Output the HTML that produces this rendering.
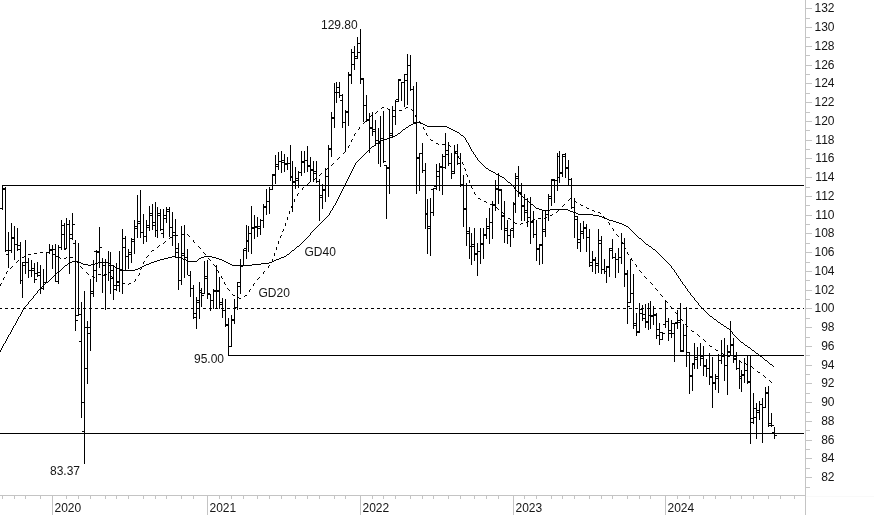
<!DOCTYPE html>
<html><head><meta charset="utf-8"><title>Chart</title>
<style>
html,body{margin:0;padding:0;background:#fff;}
body{width:874px;height:515px;overflow:hidden;}
svg{display:block;}
text{font-family:"Liberation Sans",sans-serif;font-size:12px;fill:#151515;}
</style></head><body>
<svg width="874" height="515" viewBox="0 0 874 515">
<rect width="874" height="515" fill="#fff"/>
<g shape-rendering="crispEdges" fill="#c4c4c4">
<rect x="805" y="0" width="1" height="515"/>
<rect x="0" y="495" width="805" height="1"/>
<rect x="806" y="496" width="68" height="1" fill="#f9f9f9"/>
<rect x="806" y="487" width="4" height="1"/>
<rect x="806" y="477" width="6" height="1"/>
<rect x="806" y="468" width="4" height="1"/>
<rect x="806" y="458" width="6" height="1"/>
<rect x="806" y="449" width="4" height="1"/>
<rect x="806" y="440" width="6" height="1"/>
<rect x="806" y="430" width="4" height="1"/>
<rect x="806" y="421" width="6" height="1"/>
<rect x="806" y="412" width="4" height="1"/>
<rect x="806" y="402" width="6" height="1"/>
<rect x="806" y="393" width="4" height="1"/>
<rect x="806" y="383" width="6" height="1"/>
<rect x="806" y="374" width="4" height="1"/>
<rect x="806" y="365" width="6" height="1"/>
<rect x="806" y="355" width="4" height="1"/>
<rect x="806" y="346" width="6" height="1"/>
<rect x="806" y="337" width="4" height="1"/>
<rect x="806" y="327" width="6" height="1"/>
<rect x="806" y="318" width="4" height="1"/>
<rect x="806" y="308" width="6" height="1"/>
<rect x="806" y="299" width="4" height="1"/>
<rect x="806" y="290" width="6" height="1"/>
<rect x="806" y="280" width="4" height="1"/>
<rect x="806" y="271" width="6" height="1"/>
<rect x="806" y="262" width="4" height="1"/>
<rect x="806" y="252" width="6" height="1"/>
<rect x="806" y="243" width="4" height="1"/>
<rect x="806" y="233" width="6" height="1"/>
<rect x="806" y="224" width="4" height="1"/>
<rect x="806" y="215" width="6" height="1"/>
<rect x="806" y="205" width="4" height="1"/>
<rect x="806" y="196" width="6" height="1"/>
<rect x="806" y="187" width="4" height="1"/>
<rect x="806" y="177" width="6" height="1"/>
<rect x="806" y="168" width="4" height="1"/>
<rect x="806" y="158" width="6" height="1"/>
<rect x="806" y="149" width="4" height="1"/>
<rect x="806" y="140" width="6" height="1"/>
<rect x="806" y="130" width="4" height="1"/>
<rect x="806" y="121" width="6" height="1"/>
<rect x="806" y="112" width="4" height="1"/>
<rect x="806" y="102" width="6" height="1"/>
<rect x="806" y="93" width="4" height="1"/>
<rect x="806" y="83" width="6" height="1"/>
<rect x="806" y="74" width="4" height="1"/>
<rect x="806" y="65" width="6" height="1"/>
<rect x="806" y="55" width="4" height="1"/>
<rect x="806" y="46" width="6" height="1"/>
<rect x="806" y="37" width="4" height="1"/>
<rect x="806" y="27" width="6" height="1"/>
<rect x="806" y="18" width="4" height="1"/>
<rect x="806" y="8" width="6" height="1"/>
<rect x="2" y="496" width="1" height="3"/>
<rect x="14" y="496" width="1" height="3"/>
<rect x="25" y="496" width="1" height="3"/>
<rect x="40" y="496" width="1" height="3"/>
<rect x="52" y="496" width="1" height="19"/>
<rect x="66" y="496" width="1" height="3"/>
<rect x="78" y="496" width="1" height="3"/>
<rect x="90" y="496" width="1" height="3"/>
<rect x="105" y="496" width="1" height="3"/>
<rect x="116" y="496" width="1" height="3"/>
<rect x="128" y="496" width="1" height="3"/>
<rect x="143" y="496" width="1" height="3"/>
<rect x="155" y="496" width="1" height="3"/>
<rect x="166" y="496" width="1" height="3"/>
<rect x="181" y="496" width="1" height="3"/>
<rect x="193" y="496" width="1" height="3"/>
<rect x="207" y="496" width="1" height="19"/>
<rect x="219" y="496" width="1" height="3"/>
<rect x="231" y="496" width="1" height="3"/>
<rect x="243" y="496" width="1" height="3"/>
<rect x="257" y="496" width="1" height="3"/>
<rect x="269" y="496" width="1" height="3"/>
<rect x="281" y="496" width="1" height="3"/>
<rect x="295" y="496" width="1" height="3"/>
<rect x="307" y="496" width="1" height="3"/>
<rect x="319" y="496" width="1" height="3"/>
<rect x="334" y="496" width="1" height="3"/>
<rect x="345" y="496" width="1" height="3"/>
<rect x="360" y="496" width="1" height="19"/>
<rect x="372" y="496" width="1" height="3"/>
<rect x="383" y="496" width="1" height="3"/>
<rect x="395" y="496" width="1" height="3"/>
<rect x="410" y="496" width="1" height="3"/>
<rect x="422" y="496" width="1" height="3"/>
<rect x="433" y="496" width="1" height="3"/>
<rect x="448" y="496" width="1" height="3"/>
<rect x="460" y="496" width="1" height="3"/>
<rect x="474" y="496" width="1" height="3"/>
<rect x="486" y="496" width="1" height="3"/>
<rect x="498" y="496" width="1" height="3"/>
<rect x="513" y="496" width="1" height="19"/>
<rect x="524" y="496" width="1" height="3"/>
<rect x="536" y="496" width="1" height="3"/>
<rect x="551" y="496" width="1" height="3"/>
<rect x="562" y="496" width="1" height="3"/>
<rect x="574" y="496" width="1" height="3"/>
<rect x="589" y="496" width="1" height="3"/>
<rect x="601" y="496" width="1" height="3"/>
<rect x="612" y="496" width="1" height="3"/>
<rect x="627" y="496" width="1" height="3"/>
<rect x="639" y="496" width="1" height="3"/>
<rect x="650" y="496" width="1" height="3"/>
<rect x="665" y="496" width="1" height="19"/>
<rect x="677" y="496" width="1" height="3"/>
<rect x="689" y="496" width="1" height="3"/>
<rect x="703" y="496" width="1" height="3"/>
<rect x="715" y="496" width="1" height="3"/>
<rect x="730" y="496" width="1" height="3"/>
<rect x="741" y="496" width="1" height="3"/>
<rect x="753" y="496" width="1" height="3"/>
<rect x="768" y="496" width="1" height="3"/>
<rect x="780" y="496" width="1" height="3"/>
<rect x="794" y="496" width="1" height="3"/>
</g>
<g shape-rendering="crispEdges" fill="#000">
<rect x="2" y="185" width="802" height="1"/>
<rect x="228" y="355" width="576" height="1"/>
<rect x="0" y="433" width="804" height="1"/>
<rect x="0" y="308" width="2" height="1"/>
<rect x="5" y="308" width="3" height="1"/>
<rect x="11" y="308" width="3" height="1"/>
<rect x="17" y="308" width="3" height="1"/>
<rect x="23" y="308" width="3" height="1"/>
<rect x="29" y="308" width="3" height="1"/>
<rect x="35" y="308" width="3" height="1"/>
<rect x="41" y="308" width="3" height="1"/>
<rect x="47" y="308" width="3" height="1"/>
<rect x="53" y="308" width="3" height="1"/>
<rect x="59" y="308" width="3" height="1"/>
<rect x="65" y="308" width="3" height="1"/>
<rect x="71" y="308" width="3" height="1"/>
<rect x="77" y="308" width="3" height="1"/>
<rect x="83" y="308" width="3" height="1"/>
<rect x="89" y="308" width="3" height="1"/>
<rect x="95" y="308" width="3" height="1"/>
<rect x="101" y="308" width="3" height="1"/>
<rect x="107" y="308" width="3" height="1"/>
<rect x="113" y="308" width="3" height="1"/>
<rect x="119" y="308" width="3" height="1"/>
<rect x="125" y="308" width="3" height="1"/>
<rect x="131" y="308" width="3" height="1"/>
<rect x="137" y="308" width="3" height="1"/>
<rect x="143" y="308" width="3" height="1"/>
<rect x="149" y="308" width="3" height="1"/>
<rect x="155" y="308" width="3" height="1"/>
<rect x="161" y="308" width="3" height="1"/>
<rect x="167" y="308" width="3" height="1"/>
<rect x="173" y="308" width="3" height="1"/>
<rect x="179" y="308" width="3" height="1"/>
<rect x="185" y="308" width="3" height="1"/>
<rect x="191" y="308" width="3" height="1"/>
<rect x="197" y="308" width="3" height="1"/>
<rect x="203" y="308" width="3" height="1"/>
<rect x="209" y="308" width="3" height="1"/>
<rect x="215" y="308" width="3" height="1"/>
<rect x="221" y="308" width="3" height="1"/>
<rect x="227" y="308" width="3" height="1"/>
<rect x="233" y="308" width="3" height="1"/>
<rect x="239" y="308" width="3" height="1"/>
<rect x="245" y="308" width="3" height="1"/>
<rect x="251" y="308" width="3" height="1"/>
<rect x="257" y="308" width="3" height="1"/>
<rect x="263" y="308" width="3" height="1"/>
<rect x="269" y="308" width="3" height="1"/>
<rect x="275" y="308" width="3" height="1"/>
<rect x="281" y="308" width="3" height="1"/>
<rect x="287" y="308" width="3" height="1"/>
<rect x="293" y="308" width="3" height="1"/>
<rect x="299" y="308" width="3" height="1"/>
<rect x="305" y="308" width="3" height="1"/>
<rect x="311" y="308" width="3" height="1"/>
<rect x="317" y="308" width="3" height="1"/>
<rect x="323" y="308" width="3" height="1"/>
<rect x="329" y="308" width="3" height="1"/>
<rect x="335" y="308" width="3" height="1"/>
<rect x="341" y="308" width="3" height="1"/>
<rect x="347" y="308" width="3" height="1"/>
<rect x="353" y="308" width="3" height="1"/>
<rect x="359" y="308" width="3" height="1"/>
<rect x="365" y="308" width="3" height="1"/>
<rect x="371" y="308" width="3" height="1"/>
<rect x="377" y="308" width="3" height="1"/>
<rect x="383" y="308" width="3" height="1"/>
<rect x="389" y="308" width="3" height="1"/>
<rect x="395" y="308" width="3" height="1"/>
<rect x="401" y="308" width="3" height="1"/>
<rect x="407" y="308" width="3" height="1"/>
<rect x="413" y="308" width="3" height="1"/>
<rect x="419" y="308" width="3" height="1"/>
<rect x="425" y="308" width="3" height="1"/>
<rect x="431" y="308" width="3" height="1"/>
<rect x="437" y="308" width="3" height="1"/>
<rect x="443" y="308" width="3" height="1"/>
<rect x="449" y="308" width="3" height="1"/>
<rect x="455" y="308" width="3" height="1"/>
<rect x="461" y="308" width="3" height="1"/>
<rect x="467" y="308" width="3" height="1"/>
<rect x="473" y="308" width="3" height="1"/>
<rect x="479" y="308" width="3" height="1"/>
<rect x="485" y="308" width="3" height="1"/>
<rect x="491" y="308" width="3" height="1"/>
<rect x="497" y="308" width="3" height="1"/>
<rect x="503" y="308" width="3" height="1"/>
<rect x="509" y="308" width="3" height="1"/>
<rect x="515" y="308" width="3" height="1"/>
<rect x="521" y="308" width="3" height="1"/>
<rect x="527" y="308" width="3" height="1"/>
<rect x="533" y="308" width="3" height="1"/>
<rect x="539" y="308" width="3" height="1"/>
<rect x="545" y="308" width="3" height="1"/>
<rect x="551" y="308" width="3" height="1"/>
<rect x="557" y="308" width="3" height="1"/>
<rect x="563" y="308" width="3" height="1"/>
<rect x="569" y="308" width="3" height="1"/>
<rect x="575" y="308" width="3" height="1"/>
<rect x="581" y="308" width="3" height="1"/>
<rect x="587" y="308" width="3" height="1"/>
<rect x="593" y="308" width="3" height="1"/>
<rect x="599" y="308" width="3" height="1"/>
<rect x="605" y="308" width="3" height="1"/>
<rect x="611" y="308" width="3" height="1"/>
<rect x="617" y="308" width="3" height="1"/>
<rect x="623" y="308" width="3" height="1"/>
<rect x="629" y="308" width="3" height="1"/>
<rect x="635" y="308" width="3" height="1"/>
<rect x="641" y="308" width="3" height="1"/>
<rect x="647" y="308" width="3" height="1"/>
<rect x="653" y="308" width="3" height="1"/>
<rect x="659" y="308" width="3" height="1"/>
<rect x="665" y="308" width="3" height="1"/>
<rect x="671" y="308" width="3" height="1"/>
<rect x="677" y="308" width="3" height="1"/>
<rect x="683" y="308" width="3" height="1"/>
<rect x="689" y="308" width="3" height="1"/>
<rect x="695" y="308" width="3" height="1"/>
<rect x="701" y="308" width="3" height="1"/>
<rect x="707" y="308" width="3" height="1"/>
<rect x="713" y="308" width="3" height="1"/>
<rect x="719" y="308" width="3" height="1"/>
<rect x="725" y="308" width="3" height="1"/>
<rect x="731" y="308" width="3" height="1"/>
<rect x="737" y="308" width="3" height="1"/>
<rect x="743" y="308" width="3" height="1"/>
<rect x="749" y="308" width="3" height="1"/>
<rect x="755" y="308" width="3" height="1"/>
<rect x="761" y="308" width="3" height="1"/>
<rect x="767" y="308" width="3" height="1"/>
<rect x="773" y="308" width="3" height="1"/>
<rect x="779" y="308" width="3" height="1"/>
<rect x="785" y="308" width="3" height="1"/>
<rect x="791" y="308" width="3" height="1"/>
<rect x="797" y="308" width="3" height="1"/>
<rect x="803" y="308" width="1" height="1"/>
<rect x="2" y="185" width="1" height="25"/><rect x="0" y="208" width="2" height="1"/><rect x="3" y="188" width="2" height="1"/>
<rect x="5" y="187" width="1" height="65"/><rect x="3" y="189" width="2" height="1"/><rect x="6" y="250" width="2" height="1"/>
<rect x="8" y="232" width="1" height="36"/><rect x="6" y="254" width="2" height="1"/><rect x="9" y="250" width="2" height="1"/>
<rect x="11" y="223" width="1" height="30"/><rect x="9" y="250" width="2" height="1"/><rect x="12" y="237" width="2" height="1"/>
<rect x="14" y="226" width="1" height="34"/><rect x="12" y="238" width="2" height="1"/><rect x="15" y="244" width="2" height="1"/>
<rect x="17" y="228" width="1" height="23"/><rect x="15" y="244" width="2" height="1"/><rect x="18" y="245" width="2" height="1"/>
<rect x="20" y="242" width="1" height="42"/><rect x="18" y="249" width="2" height="1"/><rect x="21" y="280" width="2" height="1"/>
<rect x="22" y="262" width="1" height="36"/><rect x="20" y="280" width="2" height="1"/><rect x="23" y="265" width="2" height="1"/>
<rect x="25" y="240" width="1" height="34"/><rect x="23" y="262" width="2" height="1"/><rect x="26" y="262" width="2" height="1"/>
<rect x="28" y="258" width="1" height="20"/><rect x="26" y="262" width="2" height="1"/><rect x="29" y="270" width="2" height="1"/>
<rect x="31" y="260" width="1" height="17"/><rect x="29" y="270" width="2" height="1"/><rect x="32" y="268" width="2" height="1"/>
<rect x="34" y="263" width="1" height="20"/><rect x="32" y="270" width="2" height="1"/><rect x="35" y="279" width="2" height="1"/>
<rect x="37" y="262" width="1" height="15"/><rect x="35" y="273" width="2" height="1"/><rect x="38" y="272" width="2" height="1"/>
<rect x="40" y="265" width="1" height="29"/><rect x="38" y="275" width="2" height="1"/><rect x="41" y="288" width="2" height="1"/>
<rect x="43" y="269" width="1" height="21"/><rect x="41" y="288" width="2" height="1"/><rect x="44" y="282" width="2" height="1"/>
<rect x="46" y="252" width="1" height="31"/><rect x="44" y="282" width="2" height="1"/><rect x="47" y="252" width="2" height="1"/>
<rect x="49" y="244" width="1" height="10"/><rect x="47" y="252" width="2" height="1"/><rect x="50" y="249" width="2" height="1"/>
<rect x="52" y="245" width="1" height="24"/><rect x="50" y="250" width="2" height="1"/><rect x="53" y="249" width="2" height="1"/>
<rect x="55" y="244" width="1" height="38"/><rect x="53" y="254" width="2" height="1"/><rect x="56" y="256" width="2" height="1"/>
<rect x="58" y="245" width="1" height="39"/><rect x="56" y="281" width="2" height="1"/><rect x="59" y="247" width="2" height="1"/>
<rect x="61" y="220" width="1" height="30"/><rect x="59" y="247" width="2" height="1"/><rect x="62" y="225" width="2" height="1"/>
<rect x="64" y="223" width="1" height="27"/><rect x="62" y="234" width="2" height="1"/><rect x="65" y="248" width="2" height="1"/>
<rect x="66" y="218" width="1" height="31"/><rect x="64" y="249" width="2" height="1"/><rect x="67" y="224" width="2" height="1"/>
<rect x="69" y="220" width="1" height="54"/><rect x="67" y="224" width="2" height="1"/><rect x="70" y="238" width="2" height="1"/>
<rect x="72" y="213" width="1" height="27"/><rect x="70" y="234" width="2" height="1"/><rect x="73" y="224" width="2" height="1"/>
<rect x="75" y="240" width="1" height="91"/><rect x="73" y="243" width="2" height="1"/><rect x="76" y="320" width="2" height="1"/>
<rect x="78" y="243" width="1" height="73"/><rect x="76" y="315" width="2" height="1"/><rect x="79" y="314" width="2" height="1"/>
<rect x="81" y="302" width="1" height="116"/><rect x="79" y="341" width="2" height="1"/><rect x="82" y="402" width="2" height="1"/>
<rect x="84" y="291" width="1" height="173"/><rect x="82" y="431" width="2" height="1"/><rect x="85" y="368" width="2" height="1"/>
<rect x="87" y="321" width="1" height="63"/><rect x="85" y="327" width="2" height="1"/><rect x="88" y="327" width="2" height="1"/>
<rect x="90" y="279" width="1" height="72"/><rect x="88" y="333" width="2" height="1"/><rect x="91" y="293" width="2" height="1"/>
<rect x="93" y="260" width="1" height="37"/><rect x="91" y="291" width="2" height="1"/><rect x="94" y="270" width="2" height="1"/>
<rect x="96" y="250" width="1" height="32"/><rect x="94" y="251" width="2" height="1"/><rect x="97" y="251" width="2" height="1"/>
<rect x="99" y="227" width="1" height="41"/><rect x="97" y="252" width="2" height="1"/><rect x="100" y="247" width="2" height="1"/>
<rect x="102" y="258" width="1" height="35"/><rect x="100" y="262" width="2" height="1"/><rect x="103" y="275" width="2" height="1"/>
<rect x="105" y="259" width="1" height="51"/><rect x="103" y="265" width="2" height="1"/><rect x="106" y="262" width="2" height="1"/>
<rect x="108" y="251" width="1" height="30"/><rect x="106" y="262" width="2" height="1"/><rect x="109" y="265" width="2" height="1"/>
<rect x="110" y="252" width="1" height="42"/><rect x="108" y="272" width="2" height="1"/><rect x="111" y="270" width="2" height="1"/>
<rect x="113" y="265" width="1" height="35"/><rect x="111" y="278" width="2" height="1"/><rect x="114" y="285" width="2" height="1"/>
<rect x="116" y="263" width="1" height="28"/><rect x="114" y="289" width="2" height="1"/><rect x="117" y="282" width="2" height="1"/>
<rect x="119" y="251" width="1" height="41"/><rect x="117" y="285" width="2" height="1"/><rect x="120" y="270" width="2" height="1"/>
<rect x="122" y="229" width="1" height="65"/><rect x="120" y="269" width="2" height="1"/><rect x="123" y="238" width="2" height="1"/>
<rect x="125" y="236" width="1" height="35"/><rect x="123" y="247" width="2" height="1"/><rect x="126" y="256" width="2" height="1"/>
<rect x="128" y="249" width="1" height="20"/><rect x="126" y="256" width="2" height="1"/><rect x="129" y="254" width="2" height="1"/>
<rect x="131" y="238" width="1" height="25"/><rect x="129" y="252" width="2" height="1"/><rect x="132" y="239" width="2" height="1"/>
<rect x="134" y="220" width="1" height="34"/><rect x="132" y="241" width="2" height="1"/><rect x="135" y="226" width="2" height="1"/>
<rect x="137" y="195" width="1" height="43"/><rect x="135" y="228" width="2" height="1"/><rect x="138" y="221" width="2" height="1"/>
<rect x="140" y="190" width="1" height="48"/><rect x="138" y="223" width="2" height="1"/><rect x="141" y="232" width="2" height="1"/>
<rect x="143" y="214" width="1" height="30"/><rect x="141" y="232" width="2" height="1"/><rect x="144" y="236" width="2" height="1"/>
<rect x="146" y="220" width="1" height="22"/><rect x="144" y="236" width="2" height="1"/><rect x="147" y="225" width="2" height="1"/>
<rect x="149" y="206" width="1" height="25"/><rect x="147" y="227" width="2" height="1"/><rect x="150" y="213" width="2" height="1"/>
<rect x="152" y="204" width="1" height="26"/><rect x="150" y="215" width="2" height="1"/><rect x="153" y="222" width="2" height="1"/>
<rect x="155" y="202" width="1" height="35"/><rect x="153" y="225" width="2" height="1"/><rect x="156" y="230" width="2" height="1"/>
<rect x="157" y="207" width="1" height="31"/><rect x="155" y="230" width="2" height="1"/><rect x="158" y="213" width="2" height="1"/>
<rect x="160" y="209" width="1" height="22"/><rect x="158" y="215" width="2" height="1"/><rect x="161" y="229" width="2" height="1"/>
<rect x="163" y="209" width="1" height="29"/><rect x="161" y="233" width="2" height="1"/><rect x="164" y="215" width="2" height="1"/>
<rect x="166" y="207" width="1" height="16"/><rect x="164" y="218" width="2" height="1"/><rect x="167" y="209" width="2" height="1"/>
<rect x="169" y="207" width="1" height="30"/><rect x="167" y="211" width="2" height="1"/><rect x="170" y="227" width="2" height="1"/>
<rect x="172" y="212" width="1" height="34"/><rect x="170" y="227" width="2" height="1"/><rect x="173" y="232" width="2" height="1"/>
<rect x="175" y="219" width="1" height="39"/><rect x="173" y="235" width="2" height="1"/><rect x="176" y="252" width="2" height="1"/>
<rect x="178" y="243" width="1" height="47"/><rect x="176" y="248" width="2" height="1"/><rect x="179" y="280" width="2" height="1"/>
<rect x="181" y="226" width="1" height="59"/><rect x="179" y="280" width="2" height="1"/><rect x="182" y="253" width="2" height="1"/>
<rect x="184" y="225" width="1" height="53"/><rect x="182" y="255" width="2" height="1"/><rect x="185" y="257" width="2" height="1"/>
<rect x="187" y="249" width="1" height="26"/><rect x="185" y="257" width="2" height="1"/><rect x="188" y="275" width="2" height="1"/>
<rect x="190" y="271" width="1" height="26"/><rect x="188" y="275" width="2" height="1"/><rect x="191" y="288" width="2" height="1"/>
<rect x="193" y="285" width="1" height="34"/><rect x="191" y="288" width="2" height="1"/><rect x="194" y="313" width="2" height="1"/>
<rect x="196" y="297" width="1" height="32"/><rect x="194" y="317" width="2" height="1"/><rect x="197" y="300" width="2" height="1"/>
<rect x="199" y="282" width="1" height="37"/><rect x="197" y="302" width="2" height="1"/><rect x="200" y="290" width="2" height="1"/>
<rect x="201" y="288" width="1" height="19"/><rect x="199" y="292" width="2" height="1"/><rect x="202" y="295" width="2" height="1"/>
<rect x="204" y="261" width="1" height="33"/><rect x="202" y="293" width="2" height="1"/><rect x="205" y="278" width="2" height="1"/>
<rect x="207" y="260" width="1" height="39"/><rect x="205" y="276" width="2" height="1"/><rect x="208" y="293" width="2" height="1"/>
<rect x="210" y="294" width="1" height="17"/><rect x="208" y="294" width="2" height="1"/><rect x="211" y="300" width="2" height="1"/>
<rect x="213" y="289" width="1" height="20"/><rect x="211" y="300" width="2" height="1"/><rect x="214" y="291" width="2" height="1"/>
<rect x="216" y="265" width="1" height="44"/><rect x="214" y="290" width="2" height="1"/><rect x="217" y="290" width="2" height="1"/>
<rect x="219" y="277" width="1" height="32"/><rect x="217" y="291" width="2" height="1"/><rect x="220" y="302" width="2" height="1"/>
<rect x="222" y="298" width="1" height="20"/><rect x="220" y="304" width="2" height="1"/><rect x="223" y="310" width="2" height="1"/>
<rect x="225" y="299" width="1" height="28"/><rect x="223" y="310" width="2" height="1"/><rect x="226" y="325" width="2" height="1"/>
<rect x="228" y="318" width="1" height="38"/><rect x="226" y="324" width="2" height="1"/><rect x="229" y="346" width="2" height="1"/>
<rect x="231" y="315" width="1" height="32"/><rect x="229" y="346" width="2" height="1"/><rect x="232" y="319" width="2" height="1"/>
<rect x="234" y="299" width="1" height="25"/><rect x="232" y="320" width="2" height="1"/><rect x="235" y="307" width="2" height="1"/>
<rect x="237" y="282" width="1" height="28"/><rect x="235" y="307" width="2" height="1"/><rect x="238" y="282" width="2" height="1"/>
<rect x="240" y="259" width="1" height="35"/><rect x="238" y="286" width="2" height="1"/><rect x="241" y="266" width="2" height="1"/>
<rect x="243" y="249" width="1" height="17"/><rect x="241" y="265" width="2" height="1"/><rect x="244" y="250" width="2" height="1"/>
<rect x="246" y="225" width="1" height="34"/><rect x="244" y="248" width="2" height="1"/><rect x="247" y="240" width="2" height="1"/>
<rect x="248" y="226" width="1" height="26"/><rect x="246" y="241" width="2" height="1"/><rect x="249" y="233" width="2" height="1"/>
<rect x="251" y="206" width="1" height="48"/><rect x="249" y="233" width="2" height="1"/><rect x="252" y="228" width="2" height="1"/>
<rect x="254" y="215" width="1" height="24"/><rect x="252" y="227" width="2" height="1"/><rect x="255" y="226" width="2" height="1"/>
<rect x="257" y="217" width="1" height="20"/><rect x="255" y="227" width="2" height="1"/><rect x="258" y="226" width="2" height="1"/>
<rect x="260" y="219" width="1" height="16"/><rect x="258" y="228" width="2" height="1"/><rect x="261" y="220" width="2" height="1"/>
<rect x="263" y="204" width="1" height="24"/><rect x="261" y="220" width="2" height="1"/><rect x="264" y="207" width="2" height="1"/>
<rect x="266" y="189" width="1" height="26"/><rect x="264" y="206" width="2" height="1"/><rect x="267" y="201" width="2" height="1"/>
<rect x="269" y="187" width="1" height="27"/><rect x="267" y="201" width="2" height="1"/><rect x="270" y="189" width="2" height="1"/>
<rect x="272" y="174" width="1" height="16"/><rect x="270" y="189" width="2" height="1"/><rect x="273" y="175" width="2" height="1"/>
<rect x="275" y="155" width="1" height="29"/><rect x="273" y="174" width="2" height="1"/><rect x="276" y="164" width="2" height="1"/>
<rect x="278" y="152" width="1" height="18"/><rect x="276" y="166" width="2" height="1"/><rect x="279" y="161" width="2" height="1"/>
<rect x="281" y="151" width="1" height="22"/><rect x="279" y="161" width="2" height="1"/><rect x="282" y="162" width="2" height="1"/>
<rect x="284" y="154" width="1" height="18"/><rect x="282" y="160" width="2" height="1"/><rect x="285" y="163" width="2" height="1"/>
<rect x="287" y="157" width="1" height="13"/><rect x="285" y="164" width="2" height="1"/><rect x="288" y="163" width="2" height="1"/>
<rect x="290" y="145" width="1" height="36"/><rect x="288" y="163" width="2" height="1"/><rect x="291" y="177" width="2" height="1"/>
<rect x="292" y="161" width="1" height="51"/><rect x="290" y="176" width="2" height="1"/><rect x="293" y="181" width="2" height="1"/>
<rect x="295" y="167" width="1" height="22"/><rect x="293" y="182" width="2" height="1"/><rect x="296" y="178" width="2" height="1"/>
<rect x="298" y="171" width="1" height="17"/><rect x="296" y="180" width="2" height="1"/><rect x="299" y="172" width="2" height="1"/>
<rect x="301" y="151" width="1" height="25"/><rect x="299" y="172" width="2" height="1"/><rect x="302" y="162" width="2" height="1"/>
<rect x="304" y="151" width="1" height="22"/><rect x="302" y="161" width="2" height="1"/><rect x="305" y="160" width="2" height="1"/>
<rect x="307" y="146" width="1" height="26"/><rect x="305" y="160" width="2" height="1"/><rect x="308" y="165" width="2" height="1"/>
<rect x="310" y="157" width="1" height="25"/><rect x="308" y="166" width="2" height="1"/><rect x="311" y="170" width="2" height="1"/>
<rect x="313" y="161" width="1" height="21"/><rect x="311" y="169" width="2" height="1"/><rect x="314" y="171" width="2" height="1"/>
<rect x="316" y="161" width="1" height="22"/><rect x="314" y="173" width="2" height="1"/><rect x="317" y="181" width="2" height="1"/>
<rect x="319" y="179" width="1" height="42"/><rect x="317" y="181" width="2" height="1"/><rect x="320" y="197" width="2" height="1"/>
<rect x="322" y="184" width="1" height="25"/><rect x="320" y="195" width="2" height="1"/><rect x="323" y="189" width="2" height="1"/>
<rect x="325" y="168" width="1" height="34"/><rect x="323" y="190" width="2" height="1"/><rect x="326" y="176" width="2" height="1"/>
<rect x="328" y="145" width="1" height="52"/><rect x="326" y="176" width="2" height="1"/><rect x="329" y="149" width="2" height="1"/>
<rect x="331" y="112" width="1" height="45"/><rect x="329" y="148" width="2" height="1"/><rect x="332" y="117" width="2" height="1"/>
<rect x="334" y="83" width="1" height="45"/><rect x="332" y="118" width="2" height="1"/><rect x="335" y="92" width="2" height="1"/>
<rect x="336" y="82" width="1" height="21"/><rect x="334" y="92" width="2" height="1"/><rect x="337" y="87" width="2" height="1"/>
<rect x="339" y="82" width="1" height="16"/><rect x="337" y="92" width="2" height="1"/><rect x="340" y="95" width="2" height="1"/>
<rect x="342" y="94" width="1" height="34"/><rect x="340" y="100" width="2" height="1"/><rect x="343" y="122" width="2" height="1"/>
<rect x="345" y="110" width="1" height="41"/><rect x="343" y="122" width="2" height="1"/><rect x="346" y="111" width="2" height="1"/>
<rect x="348" y="72" width="1" height="54"/><rect x="346" y="112" width="2" height="1"/><rect x="349" y="74" width="2" height="1"/>
<rect x="351" y="49" width="1" height="35"/><rect x="349" y="75" width="2" height="1"/><rect x="352" y="52" width="2" height="1"/>
<rect x="354" y="46" width="1" height="24"/><rect x="352" y="64" width="2" height="1"/><rect x="355" y="56" width="2" height="1"/>
<rect x="357" y="37" width="1" height="22"/><rect x="355" y="58" width="2" height="1"/><rect x="358" y="43" width="2" height="1"/>
<rect x="360" y="29" width="1" height="55"/><rect x="358" y="52" width="2" height="1"/><rect x="361" y="79" width="2" height="1"/>
<rect x="363" y="78" width="1" height="44"/><rect x="361" y="78" width="2" height="1"/><rect x="364" y="105" width="2" height="1"/>
<rect x="366" y="95" width="1" height="27"/><rect x="364" y="105" width="2" height="1"/><rect x="367" y="120" width="2" height="1"/>
<rect x="369" y="113" width="1" height="40"/><rect x="367" y="119" width="2" height="1"/><rect x="370" y="127" width="2" height="1"/>
<rect x="372" y="112" width="1" height="24"/><rect x="370" y="128" width="2" height="1"/><rect x="373" y="129" width="2" height="1"/>
<rect x="375" y="120" width="1" height="26"/><rect x="373" y="131" width="2" height="1"/><rect x="376" y="140" width="2" height="1"/>
<rect x="378" y="128" width="1" height="36"/><rect x="376" y="140" width="2" height="1"/><rect x="379" y="143" width="2" height="1"/>
<rect x="380" y="116" width="1" height="51"/><rect x="378" y="142" width="2" height="1"/><rect x="381" y="138" width="2" height="1"/>
<rect x="383" y="111" width="1" height="52"/><rect x="381" y="138" width="2" height="1"/><rect x="384" y="161" width="2" height="1"/>
<rect x="386" y="165" width="1" height="54"/><rect x="384" y="165" width="2" height="1"/><rect x="387" y="168" width="2" height="1"/>
<rect x="389" y="110" width="1" height="84"/><rect x="387" y="167" width="2" height="1"/><rect x="390" y="133" width="2" height="1"/>
<rect x="392" y="106" width="1" height="31"/><rect x="390" y="135" width="2" height="1"/><rect x="393" y="116" width="2" height="1"/>
<rect x="395" y="100" width="1" height="25"/><rect x="393" y="116" width="2" height="1"/><rect x="396" y="101" width="2" height="1"/>
<rect x="398" y="79" width="1" height="23"/><rect x="396" y="99" width="2" height="1"/><rect x="399" y="79" width="2" height="1"/>
<rect x="401" y="82" width="1" height="19"/><rect x="399" y="80" width="2" height="1"/><rect x="402" y="82" width="2" height="1"/>
<rect x="404" y="74" width="1" height="33"/><rect x="402" y="82" width="2" height="1"/><rect x="405" y="74" width="2" height="1"/>
<rect x="407" y="54" width="1" height="51"/><rect x="405" y="80" width="2" height="1"/><rect x="408" y="65" width="2" height="1"/>
<rect x="410" y="55" width="1" height="36"/><rect x="408" y="65" width="2" height="1"/><rect x="411" y="89" width="2" height="1"/>
<rect x="413" y="86" width="1" height="38"/><rect x="411" y="89" width="2" height="1"/><rect x="414" y="122" width="2" height="1"/>
<rect x="416" y="82" width="1" height="112"/><rect x="414" y="122" width="2" height="1"/><rect x="417" y="158" width="2" height="1"/>
<rect x="419" y="153" width="1" height="38"/><rect x="417" y="157" width="2" height="1"/><rect x="420" y="153" width="2" height="1"/>
<rect x="422" y="143" width="1" height="30"/><rect x="420" y="153" width="2" height="1"/><rect x="423" y="170" width="2" height="1"/>
<rect x="425" y="163" width="1" height="66"/><rect x="423" y="170" width="2" height="1"/><rect x="426" y="214" width="2" height="1"/>
<rect x="427" y="199" width="1" height="55"/><rect x="425" y="213" width="2" height="1"/><rect x="428" y="226" width="2" height="1"/>
<rect x="430" y="198" width="1" height="58"/><rect x="428" y="228" width="2" height="1"/><rect x="431" y="212" width="2" height="1"/>
<rect x="433" y="188" width="1" height="28"/><rect x="431" y="189" width="2" height="1"/><rect x="434" y="188" width="2" height="1"/>
<rect x="436" y="164" width="1" height="26"/><rect x="434" y="186" width="2" height="1"/><rect x="437" y="171" width="2" height="1"/>
<rect x="439" y="163" width="1" height="28"/><rect x="437" y="176" width="2" height="1"/><rect x="440" y="167" width="2" height="1"/>
<rect x="442" y="154" width="1" height="41"/><rect x="440" y="166" width="2" height="1"/><rect x="443" y="156" width="2" height="1"/>
<rect x="445" y="133" width="1" height="36"/><rect x="443" y="167" width="2" height="1"/><rect x="446" y="150" width="2" height="1"/>
<rect x="448" y="142" width="1" height="24"/><rect x="446" y="154" width="2" height="1"/><rect x="449" y="163" width="2" height="1"/>
<rect x="451" y="153" width="1" height="26"/><rect x="449" y="163" width="2" height="1"/><rect x="452" y="171" width="2" height="1"/>
<rect x="454" y="145" width="1" height="29"/><rect x="452" y="173" width="2" height="1"/><rect x="455" y="151" width="2" height="1"/>
<rect x="457" y="144" width="1" height="21"/><rect x="455" y="153" width="2" height="1"/><rect x="458" y="163" width="2" height="1"/>
<rect x="460" y="153" width="1" height="34"/><rect x="458" y="163" width="2" height="1"/><rect x="461" y="184" width="2" height="1"/>
<rect x="463" y="175" width="1" height="52"/><rect x="461" y="184" width="2" height="1"/><rect x="464" y="209" width="2" height="1"/>
<rect x="466" y="183" width="1" height="63"/><rect x="464" y="208" width="2" height="1"/><rect x="467" y="231" width="2" height="1"/>
<rect x="469" y="227" width="1" height="32"/><rect x="467" y="233" width="2" height="1"/><rect x="470" y="246" width="2" height="1"/>
<rect x="471" y="233" width="1" height="32"/><rect x="469" y="246" width="2" height="1"/><rect x="472" y="246" width="2" height="1"/>
<rect x="474" y="228" width="1" height="33"/><rect x="472" y="244" width="2" height="1"/><rect x="475" y="253" width="2" height="1"/>
<rect x="477" y="243" width="1" height="33"/><rect x="475" y="254" width="2" height="1"/><rect x="478" y="251" width="2" height="1"/>
<rect x="480" y="228" width="1" height="36"/><rect x="478" y="251" width="2" height="1"/><rect x="481" y="244" width="2" height="1"/>
<rect x="483" y="228" width="1" height="31"/><rect x="481" y="243" width="2" height="1"/><rect x="484" y="234" width="2" height="1"/>
<rect x="486" y="218" width="1" height="21"/><rect x="484" y="235" width="2" height="1"/><rect x="487" y="226" width="2" height="1"/>
<rect x="489" y="208" width="1" height="36"/><rect x="487" y="228" width="2" height="1"/><rect x="490" y="222" width="2" height="1"/>
<rect x="492" y="201" width="1" height="38"/><rect x="490" y="222" width="2" height="1"/><rect x="493" y="205" width="2" height="1"/>
<rect x="495" y="180" width="1" height="31"/><rect x="493" y="204" width="2" height="1"/><rect x="496" y="188" width="2" height="1"/>
<rect x="498" y="173" width="1" height="31"/><rect x="496" y="189" width="2" height="1"/><rect x="499" y="189" width="2" height="1"/>
<rect x="501" y="189" width="1" height="41"/><rect x="499" y="190" width="2" height="1"/><rect x="502" y="216" width="2" height="1"/>
<rect x="504" y="201" width="1" height="42"/><rect x="502" y="215" width="2" height="1"/><rect x="505" y="228" width="2" height="1"/>
<rect x="507" y="220" width="1" height="24"/><rect x="505" y="230" width="2" height="1"/><rect x="508" y="235" width="2" height="1"/>
<rect x="510" y="229" width="1" height="18"/><rect x="508" y="235" width="2" height="1"/><rect x="511" y="230" width="2" height="1"/>
<rect x="513" y="202" width="1" height="36"/><rect x="511" y="228" width="2" height="1"/><rect x="514" y="203" width="2" height="1"/>
<rect x="515" y="173" width="1" height="40"/><rect x="513" y="204" width="2" height="1"/><rect x="516" y="176" width="2" height="1"/>
<rect x="518" y="166" width="1" height="31"/><rect x="516" y="178" width="2" height="1"/><rect x="519" y="193" width="2" height="1"/>
<rect x="521" y="183" width="1" height="38"/><rect x="519" y="192" width="2" height="1"/><rect x="522" y="205" width="2" height="1"/>
<rect x="524" y="194" width="1" height="27"/><rect x="522" y="206" width="2" height="1"/><rect x="525" y="210" width="2" height="1"/>
<rect x="527" y="198" width="1" height="29"/><rect x="525" y="212" width="2" height="1"/><rect x="528" y="217" width="2" height="1"/>
<rect x="530" y="197" width="1" height="47"/><rect x="528" y="217" width="2" height="1"/><rect x="531" y="222" width="2" height="1"/>
<rect x="533" y="211" width="1" height="27"/><rect x="531" y="221" width="2" height="1"/><rect x="534" y="234" width="2" height="1"/>
<rect x="536" y="220" width="1" height="41"/><rect x="534" y="234" width="2" height="1"/><rect x="537" y="248" width="2" height="1"/>
<rect x="539" y="244" width="1" height="21"/><rect x="537" y="249" width="2" height="1"/><rect x="540" y="245" width="2" height="1"/>
<rect x="542" y="211" width="1" height="53"/><rect x="540" y="244" width="2" height="1"/><rect x="543" y="229" width="2" height="1"/>
<rect x="545" y="211" width="1" height="26"/><rect x="543" y="231" width="2" height="1"/><rect x="546" y="214" width="2" height="1"/>
<rect x="548" y="194" width="1" height="27"/><rect x="546" y="214" width="2" height="1"/><rect x="549" y="198" width="2" height="1"/>
<rect x="551" y="179" width="1" height="27"/><rect x="549" y="196" width="2" height="1"/><rect x="552" y="179" width="2" height="1"/>
<rect x="554" y="179" width="1" height="24"/><rect x="552" y="180" width="2" height="1"/><rect x="555" y="180" width="2" height="1"/>
<rect x="557" y="153" width="1" height="38"/><rect x="555" y="180" width="2" height="1"/><rect x="558" y="156" width="2" height="1"/>
<rect x="559" y="151" width="1" height="32"/><rect x="557" y="177" width="2" height="1"/><rect x="560" y="172" width="2" height="1"/>
<rect x="562" y="154" width="1" height="23"/><rect x="560" y="173" width="2" height="1"/><rect x="563" y="154" width="2" height="1"/>
<rect x="565" y="153" width="1" height="25"/><rect x="563" y="156" width="2" height="1"/><rect x="566" y="167" width="2" height="1"/>
<rect x="568" y="160" width="1" height="26"/><rect x="566" y="168" width="2" height="1"/><rect x="569" y="179" width="2" height="1"/>
<rect x="571" y="178" width="1" height="31"/><rect x="569" y="179" width="2" height="1"/><rect x="572" y="207" width="2" height="1"/>
<rect x="574" y="198" width="1" height="40"/><rect x="572" y="207" width="2" height="1"/><rect x="575" y="219" width="2" height="1"/>
<rect x="577" y="216" width="1" height="33"/><rect x="575" y="216" width="2" height="1"/><rect x="578" y="239" width="2" height="1"/>
<rect x="580" y="223" width="1" height="29"/><rect x="578" y="242" width="2" height="1"/><rect x="581" y="231" width="2" height="1"/>
<rect x="583" y="221" width="1" height="18"/><rect x="581" y="233" width="2" height="1"/><rect x="584" y="227" width="2" height="1"/>
<rect x="586" y="224" width="1" height="28"/><rect x="584" y="228" width="2" height="1"/><rect x="587" y="237" width="2" height="1"/>
<rect x="589" y="229" width="1" height="38"/><rect x="587" y="237" width="2" height="1"/><rect x="590" y="265" width="2" height="1"/>
<rect x="592" y="251" width="1" height="21"/><rect x="590" y="262" width="2" height="1"/><rect x="593" y="259" width="2" height="1"/>
<rect x="595" y="257" width="1" height="17"/><rect x="593" y="260" width="2" height="1"/><rect x="596" y="263" width="2" height="1"/>
<rect x="598" y="229" width="1" height="44"/><rect x="596" y="265" width="2" height="1"/><rect x="599" y="240" width="2" height="1"/>
<rect x="601" y="236" width="1" height="38"/><rect x="599" y="243" width="2" height="1"/><rect x="602" y="269" width="2" height="1"/>
<rect x="604" y="259" width="1" height="15"/><rect x="602" y="269" width="2" height="1"/><rect x="605" y="271" width="2" height="1"/>
<rect x="606" y="266" width="1" height="17"/><rect x="604" y="271" width="2" height="1"/><rect x="607" y="267" width="2" height="1"/>
<rect x="609" y="248" width="1" height="29"/><rect x="607" y="266" width="2" height="1"/><rect x="610" y="248" width="2" height="1"/>
<rect x="612" y="239" width="1" height="20"/><rect x="610" y="250" width="2" height="1"/><rect x="613" y="257" width="2" height="1"/>
<rect x="615" y="253" width="1" height="25"/><rect x="613" y="257" width="2" height="1"/><rect x="616" y="259" width="2" height="1"/>
<rect x="618" y="248" width="1" height="25"/><rect x="616" y="259" width="2" height="1"/><rect x="619" y="257" width="2" height="1"/>
<rect x="621" y="233" width="1" height="31"/><rect x="619" y="257" width="2" height="1"/><rect x="622" y="243" width="2" height="1"/>
<rect x="624" y="238" width="1" height="49"/><rect x="622" y="243" width="2" height="1"/><rect x="625" y="273" width="2" height="1"/>
<rect x="627" y="270" width="1" height="54"/><rect x="625" y="274" width="2" height="1"/><rect x="628" y="306" width="2" height="1"/>
<rect x="630" y="259" width="1" height="44"/><rect x="628" y="302" width="2" height="1"/><rect x="631" y="293" width="2" height="1"/>
<rect x="633" y="274" width="1" height="55"/><rect x="631" y="293" width="2" height="1"/><rect x="634" y="323" width="2" height="1"/>
<rect x="636" y="313" width="1" height="23"/><rect x="634" y="325" width="2" height="1"/><rect x="637" y="331" width="2" height="1"/>
<rect x="639" y="303" width="1" height="30"/><rect x="637" y="332" width="2" height="1"/><rect x="640" y="309" width="2" height="1"/>
<rect x="642" y="305" width="1" height="16"/><rect x="640" y="313" width="2" height="1"/><rect x="643" y="318" width="2" height="1"/>
<rect x="645" y="304" width="1" height="24"/><rect x="643" y="314" width="2" height="1"/><rect x="646" y="322" width="2" height="1"/>
<rect x="648" y="303" width="1" height="27"/><rect x="646" y="321" width="2" height="1"/><rect x="649" y="315" width="2" height="1"/>
<rect x="650" y="301" width="1" height="28"/><rect x="648" y="315" width="2" height="1"/><rect x="651" y="315" width="2" height="1"/>
<rect x="653" y="306" width="1" height="19"/><rect x="651" y="316" width="2" height="1"/><rect x="654" y="315" width="2" height="1"/>
<rect x="656" y="313" width="1" height="26"/><rect x="654" y="314" width="2" height="1"/><rect x="657" y="329" width="2" height="1"/>
<rect x="659" y="323" width="1" height="22"/><rect x="657" y="335" width="2" height="1"/><rect x="660" y="332" width="2" height="1"/>
<rect x="662" y="332" width="1" height="8"/><rect x="660" y="339" width="2" height="1"/><rect x="663" y="333" width="2" height="1"/>
<rect x="665" y="300" width="1" height="28"/><rect x="663" y="324" width="2" height="1"/><rect x="666" y="321" width="2" height="1"/>
<rect x="668" y="318" width="1" height="23"/><rect x="666" y="321" width="2" height="1"/><rect x="669" y="330" width="2" height="1"/>
<rect x="671" y="320" width="1" height="18"/><rect x="669" y="333" width="2" height="1"/><rect x="672" y="333" width="2" height="1"/>
<rect x="674" y="323" width="1" height="39"/><rect x="672" y="323" width="2" height="1"/><rect x="675" y="323" width="2" height="1"/>
<rect x="677" y="310" width="1" height="19"/><rect x="675" y="322" width="2" height="1"/><rect x="678" y="320" width="2" height="1"/>
<rect x="680" y="303" width="1" height="49"/><rect x="678" y="322" width="2" height="1"/><rect x="681" y="350" width="2" height="1"/>
<rect x="683" y="324" width="1" height="28"/><rect x="681" y="351" width="2" height="1"/><rect x="684" y="335" width="2" height="1"/>
<rect x="686" y="307" width="1" height="60"/><rect x="684" y="335" width="2" height="1"/><rect x="687" y="352" width="2" height="1"/>
<rect x="689" y="352" width="1" height="42"/><rect x="687" y="352" width="2" height="1"/><rect x="690" y="375" width="2" height="1"/>
<rect x="692" y="363" width="1" height="28"/><rect x="690" y="376" width="2" height="1"/><rect x="693" y="364" width="2" height="1"/>
<rect x="694" y="343" width="1" height="26"/><rect x="692" y="363" width="2" height="1"/><rect x="695" y="357" width="2" height="1"/>
<rect x="697" y="347" width="1" height="22"/><rect x="695" y="359" width="2" height="1"/><rect x="698" y="355" width="2" height="1"/>
<rect x="700" y="343" width="1" height="23"/><rect x="698" y="355" width="2" height="1"/><rect x="701" y="358" width="2" height="1"/>
<rect x="703" y="346" width="1" height="30"/><rect x="701" y="356" width="2" height="1"/><rect x="704" y="365" width="2" height="1"/>
<rect x="706" y="359" width="1" height="18"/><rect x="704" y="366" width="2" height="1"/><rect x="707" y="368" width="2" height="1"/>
<rect x="709" y="353" width="1" height="32"/><rect x="707" y="368" width="2" height="1"/><rect x="710" y="377" width="2" height="1"/>
<rect x="712" y="357" width="1" height="51"/><rect x="710" y="376" width="2" height="1"/><rect x="713" y="382" width="2" height="1"/>
<rect x="715" y="374" width="1" height="16"/><rect x="713" y="383" width="2" height="1"/><rect x="716" y="376" width="2" height="1"/>
<rect x="718" y="354" width="1" height="39"/><rect x="716" y="378" width="2" height="1"/><rect x="719" y="360" width="2" height="1"/>
<rect x="721" y="340" width="1" height="24"/><rect x="719" y="360" width="2" height="1"/><rect x="722" y="356" width="2" height="1"/>
<rect x="724" y="338" width="1" height="43"/><rect x="722" y="355" width="2" height="1"/><rect x="725" y="365" width="2" height="1"/>
<rect x="727" y="345" width="1" height="50"/><rect x="725" y="365" width="2" height="1"/><rect x="728" y="351" width="2" height="1"/>
<rect x="730" y="321" width="1" height="35"/><rect x="728" y="352" width="2" height="1"/><rect x="731" y="345" width="2" height="1"/>
<rect x="733" y="338" width="1" height="25"/><rect x="731" y="344" width="2" height="1"/><rect x="734" y="356" width="2" height="1"/>
<rect x="736" y="352" width="1" height="18"/><rect x="734" y="358" width="2" height="1"/><rect x="737" y="368" width="2" height="1"/>
<rect x="739" y="360" width="1" height="29"/><rect x="737" y="368" width="2" height="1"/><rect x="740" y="378" width="2" height="1"/>
<rect x="741" y="370" width="1" height="22"/><rect x="739" y="376" width="2" height="1"/><rect x="742" y="374" width="2" height="1"/>
<rect x="744" y="358" width="1" height="25"/><rect x="742" y="375" width="2" height="1"/><rect x="745" y="370" width="2" height="1"/>
<rect x="747" y="356" width="1" height="28"/><rect x="745" y="370" width="2" height="1"/><rect x="748" y="382" width="2" height="1"/>
<rect x="750" y="356" width="1" height="88"/><rect x="748" y="381" width="2" height="1"/><rect x="751" y="418" width="2" height="1"/>
<rect x="753" y="393" width="1" height="31"/><rect x="751" y="422" width="2" height="1"/><rect x="754" y="408" width="2" height="1"/>
<rect x="756" y="403" width="1" height="36"/><rect x="754" y="417" width="2" height="1"/><rect x="757" y="410" width="2" height="1"/>
<rect x="759" y="401" width="1" height="19"/><rect x="757" y="412" width="2" height="1"/><rect x="760" y="404" width="2" height="1"/>
<rect x="762" y="398" width="1" height="45"/><rect x="760" y="404" width="2" height="1"/><rect x="763" y="407" width="2" height="1"/>
<rect x="765" y="387" width="1" height="21"/><rect x="763" y="407" width="2" height="1"/><rect x="766" y="393" width="2" height="1"/>
<rect x="768" y="386" width="1" height="41"/><rect x="766" y="392" width="2" height="1"/><rect x="769" y="423" width="2" height="1"/>
<rect x="771" y="413" width="1" height="14"/><rect x="769" y="425" width="2" height="1"/><rect x="772" y="425" width="2" height="1"/>
<rect x="774" y="427" width="1" height="12"/><rect x="772" y="432" width="2" height="1"/><rect x="775" y="435" width="2" height="1"/>
</g>
<g shape-rendering="crispEdges" fill="#000">
<rect x="417" y="122" width="4" height="1"/><rect x="413" y="123" width="4" height="1"/><rect x="421" y="123" width="2" height="1"/><rect x="411" y="124" width="2" height="1"/><rect x="423" y="124" width="2" height="1"/><rect x="409" y="125" width="2" height="1"/><rect x="425" y="125" width="2" height="1"/><rect x="408" y="126" width="1" height="1"/><rect x="427" y="126" width="20" height="1"/><rect x="406" y="127" width="2" height="1"/><rect x="447" y="127" width="2" height="1"/><rect x="405" y="128" width="1" height="1"/><rect x="449" y="128" width="2" height="1"/><rect x="403" y="129" width="2" height="1"/><rect x="451" y="129" width="2" height="1"/><rect x="402" y="130" width="1" height="1"/><rect x="453" y="130" width="2" height="1"/><rect x="401" y="131" width="1" height="1"/><rect x="455" y="131" width="2" height="1"/><rect x="400" y="132" width="1" height="1"/><rect x="457" y="132" width="2" height="1"/><rect x="398" y="133" width="2" height="1"/><rect x="459" y="133" width="1" height="1"/><rect x="397" y="134" width="1" height="1"/><rect x="460" y="134" width="1" height="1"/><rect x="395" y="135" width="2" height="1"/><rect x="461" y="135" width="2" height="1"/><rect x="393" y="136" width="2" height="1"/><rect x="463" y="136" width="1" height="1"/><rect x="390" y="137" width="3" height="1"/><rect x="464" y="137" width="1" height="1"/><rect x="387" y="138" width="3" height="1"/><rect x="465" y="138" width="1" height="1"/><rect x="384" y="139" width="3" height="1"/><rect x="465" y="139" width="1" height="1"/><rect x="380" y="140" width="4" height="1"/><rect x="466" y="140" width="1" height="1"/><rect x="379" y="141" width="1" height="1"/><rect x="466" y="141" width="1" height="1"/><rect x="378" y="142" width="1" height="1"/><rect x="467" y="142" width="1" height="1"/><rect x="376" y="143" width="2" height="1"/><rect x="468" y="143" width="1" height="1"/><rect x="375" y="144" width="1" height="1"/><rect x="468" y="144" width="1" height="1"/><rect x="374" y="145" width="1" height="1"/><rect x="469" y="145" width="1" height="1"/><rect x="372" y="146" width="2" height="1"/><rect x="469" y="146" width="1" height="1"/><rect x="371" y="147" width="1" height="1"/><rect x="470" y="147" width="1" height="1"/><rect x="370" y="148" width="1" height="1"/><rect x="470" y="148" width="1" height="1"/><rect x="369" y="149" width="1" height="1"/><rect x="471" y="149" width="1" height="1"/><rect x="368" y="150" width="1" height="1"/><rect x="471" y="150" width="1" height="1"/><rect x="367" y="151" width="1" height="1"/><rect x="472" y="151" width="1" height="1"/><rect x="366" y="152" width="1" height="1"/><rect x="473" y="152" width="1" height="1"/><rect x="365" y="153" width="1" height="1"/><rect x="473" y="153" width="1" height="1"/><rect x="364" y="154" width="1" height="1"/><rect x="474" y="154" width="1" height="1"/><rect x="363" y="155" width="1" height="1"/><rect x="475" y="155" width="1" height="1"/><rect x="362" y="156" width="1" height="1"/><rect x="475" y="156" width="1" height="1"/><rect x="361" y="157" width="1" height="1"/><rect x="476" y="157" width="1" height="1"/><rect x="360" y="158" width="1" height="1"/><rect x="477" y="158" width="1" height="1"/><rect x="359" y="159" width="1" height="1"/><rect x="477" y="159" width="1" height="1"/><rect x="358" y="160" width="1" height="1"/><rect x="478" y="160" width="1" height="1"/><rect x="357" y="161" width="1" height="1"/><rect x="479" y="161" width="1" height="1"/><rect x="356" y="162" width="1" height="1"/><rect x="480" y="162" width="1" height="1"/><rect x="355" y="163" width="1" height="1"/><rect x="481" y="163" width="1" height="1"/><rect x="355" y="164" width="1" height="1"/><rect x="482" y="164" width="1" height="1"/><rect x="354" y="165" width="1" height="1"/><rect x="483" y="165" width="1" height="1"/><rect x="354" y="166" width="1" height="1"/><rect x="484" y="166" width="1" height="1"/><rect x="353" y="167" width="1" height="1"/><rect x="485" y="167" width="1" height="1"/><rect x="353" y="168" width="1" height="1"/><rect x="486" y="168" width="2" height="1"/><rect x="352" y="169" width="1" height="1"/><rect x="488" y="169" width="1" height="1"/><rect x="352" y="170" width="1" height="1"/><rect x="489" y="170" width="2" height="1"/><rect x="351" y="171" width="1" height="1"/><rect x="491" y="171" width="2" height="1"/><rect x="351" y="172" width="1" height="1"/><rect x="493" y="172" width="2" height="1"/><rect x="350" y="173" width="1" height="1"/><rect x="495" y="173" width="1" height="1"/><rect x="350" y="174" width="1" height="1"/><rect x="496" y="174" width="2" height="1"/><rect x="349" y="175" width="1" height="1"/><rect x="498" y="175" width="2" height="1"/><rect x="349" y="176" width="1" height="1"/><rect x="500" y="176" width="2" height="1"/><rect x="348" y="177" width="1" height="1"/><rect x="502" y="177" width="2" height="1"/><rect x="348" y="178" width="1" height="1"/><rect x="504" y="178" width="1" height="1"/><rect x="347" y="179" width="1" height="1"/><rect x="505" y="179" width="1" height="1"/><rect x="347" y="180" width="1" height="1"/><rect x="506" y="180" width="1" height="1"/><rect x="346" y="181" width="1" height="1"/><rect x="507" y="181" width="1" height="1"/><rect x="346" y="182" width="1" height="1"/><rect x="508" y="182" width="2" height="1"/><rect x="345" y="183" width="1" height="1"/><rect x="510" y="183" width="1" height="1"/><rect x="345" y="184" width="1" height="1"/><rect x="511" y="184" width="1" height="1"/><rect x="344" y="185" width="1" height="1"/><rect x="512" y="185" width="1" height="1"/><rect x="344" y="186" width="1" height="1"/><rect x="513" y="186" width="1" height="1"/><rect x="343" y="187" width="1" height="1"/><rect x="514" y="187" width="1" height="1"/><rect x="343" y="188" width="1" height="1"/><rect x="514" y="188" width="1" height="1"/><rect x="342" y="189" width="1" height="1"/><rect x="515" y="189" width="1" height="1"/><rect x="342" y="190" width="1" height="1"/><rect x="516" y="190" width="1" height="1"/><rect x="341" y="191" width="1" height="1"/><rect x="517" y="191" width="1" height="1"/><rect x="341" y="192" width="1" height="1"/><rect x="518" y="192" width="1" height="1"/><rect x="340" y="193" width="1" height="1"/><rect x="519" y="193" width="1" height="1"/><rect x="340" y="194" width="1" height="1"/><rect x="520" y="194" width="1" height="1"/><rect x="339" y="195" width="1" height="1"/><rect x="521" y="195" width="1" height="1"/><rect x="339" y="196" width="1" height="1"/><rect x="522" y="196" width="1" height="1"/><rect x="338" y="197" width="1" height="1"/><rect x="523" y="197" width="1" height="1"/><rect x="338" y="198" width="1" height="1"/><rect x="524" y="198" width="1" height="1"/><rect x="337" y="199" width="1" height="1"/><rect x="525" y="199" width="2" height="1"/><rect x="337" y="200" width="1" height="1"/><rect x="527" y="200" width="1" height="1"/><rect x="336" y="201" width="1" height="1"/><rect x="528" y="201" width="1" height="1"/><rect x="336" y="202" width="1" height="1"/><rect x="529" y="202" width="1" height="1"/><rect x="335" y="203" width="1" height="1"/><rect x="530" y="203" width="1" height="1"/><rect x="335" y="204" width="1" height="1"/><rect x="531" y="204" width="2" height="1"/><rect x="334" y="205" width="1" height="1"/><rect x="533" y="205" width="1" height="1"/><rect x="333" y="206" width="1" height="1"/><rect x="534" y="206" width="1" height="1"/><rect x="333" y="207" width="1" height="1"/><rect x="535" y="207" width="1" height="1"/><rect x="332" y="208" width="1" height="1"/><rect x="536" y="208" width="3" height="1"/><rect x="332" y="209" width="1" height="1"/><rect x="539" y="209" width="3" height="1"/><rect x="550" y="209" width="18" height="1"/><rect x="331" y="210" width="1" height="1"/><rect x="542" y="210" width="8" height="1"/><rect x="568" y="210" width="2" height="1"/><rect x="330" y="211" width="1" height="1"/><rect x="570" y="211" width="3" height="1"/><rect x="330" y="212" width="1" height="1"/><rect x="573" y="212" width="3" height="1"/><rect x="329" y="213" width="1" height="1"/><rect x="576" y="213" width="2" height="1"/><rect x="329" y="214" width="1" height="1"/><rect x="578" y="214" width="15" height="1"/><rect x="328" y="215" width="1" height="1"/><rect x="593" y="215" width="6" height="1"/><rect x="327" y="216" width="1" height="1"/><rect x="599" y="216" width="3" height="1"/><rect x="326" y="217" width="1" height="1"/><rect x="602" y="217" width="2" height="1"/><rect x="325" y="218" width="1" height="1"/><rect x="604" y="218" width="3" height="1"/><rect x="324" y="219" width="1" height="1"/><rect x="607" y="219" width="2" height="1"/><rect x="323" y="220" width="1" height="1"/><rect x="609" y="220" width="4" height="1"/><rect x="322" y="221" width="1" height="1"/><rect x="613" y="221" width="3" height="1"/><rect x="321" y="222" width="1" height="1"/><rect x="616" y="222" width="3" height="1"/><rect x="320" y="223" width="1" height="1"/><rect x="619" y="223" width="3" height="1"/><rect x="319" y="224" width="1" height="1"/><rect x="622" y="224" width="2" height="1"/><rect x="318" y="225" width="1" height="1"/><rect x="624" y="225" width="2" height="1"/><rect x="317" y="226" width="1" height="1"/><rect x="626" y="226" width="2" height="1"/><rect x="316" y="227" width="1" height="1"/><rect x="628" y="227" width="1" height="1"/><rect x="315" y="228" width="1" height="1"/><rect x="629" y="228" width="1" height="1"/><rect x="314" y="229" width="1" height="1"/><rect x="630" y="229" width="1" height="1"/><rect x="313" y="230" width="1" height="1"/><rect x="631" y="230" width="1" height="1"/><rect x="312" y="231" width="1" height="1"/><rect x="632" y="231" width="1" height="1"/><rect x="311" y="232" width="1" height="1"/><rect x="633" y="232" width="1" height="1"/><rect x="310" y="233" width="1" height="1"/><rect x="634" y="233" width="1" height="1"/><rect x="310" y="234" width="1" height="1"/><rect x="635" y="234" width="1" height="1"/><rect x="309" y="235" width="1" height="1"/><rect x="636" y="235" width="1" height="1"/><rect x="308" y="236" width="1" height="1"/><rect x="637" y="236" width="1" height="1"/><rect x="307" y="237" width="1" height="1"/><rect x="638" y="237" width="1" height="1"/><rect x="306" y="238" width="1" height="1"/><rect x="639" y="238" width="2" height="1"/><rect x="305" y="239" width="1" height="1"/><rect x="641" y="239" width="1" height="1"/><rect x="304" y="240" width="1" height="1"/><rect x="642" y="240" width="1" height="1"/><rect x="303" y="241" width="1" height="1"/><rect x="643" y="241" width="1" height="1"/><rect x="302" y="242" width="1" height="1"/><rect x="644" y="242" width="1" height="1"/><rect x="301" y="243" width="1" height="1"/><rect x="645" y="243" width="1" height="1"/><rect x="300" y="244" width="1" height="1"/><rect x="646" y="244" width="2" height="1"/><rect x="299" y="245" width="1" height="1"/><rect x="648" y="245" width="1" height="1"/><rect x="297" y="246" width="2" height="1"/><rect x="649" y="246" width="2" height="1"/><rect x="296" y="247" width="1" height="1"/><rect x="651" y="247" width="1" height="1"/><rect x="295" y="248" width="1" height="1"/><rect x="652" y="248" width="1" height="1"/><rect x="294" y="249" width="1" height="1"/><rect x="653" y="249" width="2" height="1"/><rect x="292" y="250" width="2" height="1"/><rect x="655" y="250" width="1" height="1"/><rect x="291" y="251" width="1" height="1"/><rect x="656" y="251" width="1" height="1"/><rect x="290" y="252" width="1" height="1"/><rect x="657" y="252" width="1" height="1"/><rect x="289" y="253" width="1" height="1"/><rect x="658" y="253" width="1" height="1"/><rect x="287" y="254" width="2" height="1"/><rect x="659" y="254" width="1" height="1"/><rect x="286" y="255" width="1" height="1"/><rect x="660" y="255" width="1" height="1"/><rect x="172" y="256" width="4" height="1"/><rect x="204" y="256" width="8" height="1"/><rect x="284" y="256" width="2" height="1"/><rect x="661" y="256" width="1" height="1"/><rect x="168" y="257" width="4" height="1"/><rect x="176" y="257" width="5" height="1"/><rect x="201" y="257" width="3" height="1"/><rect x="212" y="257" width="4" height="1"/><rect x="281" y="257" width="3" height="1"/><rect x="662" y="257" width="1" height="1"/><rect x="164" y="258" width="4" height="1"/><rect x="181" y="258" width="2" height="1"/><rect x="199" y="258" width="2" height="1"/><rect x="216" y="258" width="3" height="1"/><rect x="279" y="258" width="2" height="1"/><rect x="663" y="258" width="1" height="1"/><rect x="160" y="259" width="4" height="1"/><rect x="183" y="259" width="3" height="1"/><rect x="198" y="259" width="1" height="1"/><rect x="219" y="259" width="3" height="1"/><rect x="276" y="259" width="3" height="1"/><rect x="664" y="259" width="1" height="1"/><rect x="157" y="260" width="3" height="1"/><rect x="186" y="260" width="2" height="1"/><rect x="197" y="260" width="1" height="1"/><rect x="222" y="260" width="2" height="1"/><rect x="274" y="260" width="2" height="1"/><rect x="665" y="260" width="1" height="1"/><rect x="72" y="261" width="6" height="1"/><rect x="154" y="261" width="3" height="1"/><rect x="188" y="261" width="9" height="1"/><rect x="224" y="261" width="2" height="1"/><rect x="272" y="261" width="2" height="1"/><rect x="666" y="261" width="1" height="1"/><rect x="70" y="262" width="2" height="1"/><rect x="78" y="262" width="3" height="1"/><rect x="98" y="262" width="10" height="1"/><rect x="151" y="262" width="3" height="1"/><rect x="226" y="262" width="2" height="1"/><rect x="269" y="262" width="3" height="1"/><rect x="667" y="262" width="1" height="1"/><rect x="68" y="263" width="2" height="1"/><rect x="81" y="263" width="2" height="1"/><rect x="95" y="263" width="3" height="1"/><rect x="108" y="263" width="2" height="1"/><rect x="149" y="263" width="2" height="1"/><rect x="228" y="263" width="2" height="1"/><rect x="261" y="263" width="8" height="1"/><rect x="668" y="263" width="1" height="1"/><rect x="67" y="264" width="1" height="1"/><rect x="83" y="264" width="5" height="1"/><rect x="91" y="264" width="4" height="1"/><rect x="110" y="264" width="1" height="1"/><rect x="146" y="264" width="3" height="1"/><rect x="230" y="264" width="2" height="1"/><rect x="252" y="264" width="9" height="1"/><rect x="669" y="264" width="1" height="1"/><rect x="65" y="265" width="2" height="1"/><rect x="88" y="265" width="3" height="1"/><rect x="111" y="265" width="2" height="1"/><rect x="144" y="265" width="2" height="1"/><rect x="232" y="265" width="20" height="1"/><rect x="670" y="265" width="1" height="1"/><rect x="64" y="266" width="1" height="1"/><rect x="113" y="266" width="2" height="1"/><rect x="142" y="266" width="2" height="1"/><rect x="671" y="266" width="1" height="1"/><rect x="63" y="267" width="1" height="1"/><rect x="115" y="267" width="1" height="1"/><rect x="140" y="267" width="2" height="1"/><rect x="671" y="267" width="1" height="1"/><rect x="62" y="268" width="1" height="1"/><rect x="116" y="268" width="3" height="1"/><rect x="138" y="268" width="2" height="1"/><rect x="672" y="268" width="1" height="1"/><rect x="61" y="269" width="1" height="1"/><rect x="119" y="269" width="4" height="1"/><rect x="135" y="269" width="3" height="1"/><rect x="673" y="269" width="1" height="1"/><rect x="60" y="270" width="1" height="1"/><rect x="123" y="270" width="12" height="1"/><rect x="674" y="270" width="1" height="1"/><rect x="58" y="271" width="2" height="1"/><rect x="674" y="271" width="1" height="1"/><rect x="57" y="272" width="1" height="1"/><rect x="675" y="272" width="1" height="1"/><rect x="56" y="273" width="1" height="1"/><rect x="676" y="273" width="1" height="1"/><rect x="55" y="274" width="1" height="1"/><rect x="676" y="274" width="1" height="1"/><rect x="54" y="275" width="1" height="1"/><rect x="677" y="275" width="1" height="1"/><rect x="53" y="276" width="1" height="1"/><rect x="678" y="276" width="1" height="1"/><rect x="52" y="277" width="1" height="1"/><rect x="678" y="277" width="1" height="1"/><rect x="51" y="278" width="1" height="1"/><rect x="679" y="278" width="1" height="1"/><rect x="50" y="279" width="1" height="1"/><rect x="680" y="279" width="1" height="1"/><rect x="49" y="280" width="1" height="1"/><rect x="680" y="280" width="1" height="1"/><rect x="48" y="281" width="1" height="1"/><rect x="681" y="281" width="1" height="1"/><rect x="46" y="282" width="2" height="1"/><rect x="682" y="282" width="1" height="1"/><rect x="45" y="283" width="1" height="1"/><rect x="682" y="283" width="1" height="1"/><rect x="44" y="284" width="1" height="1"/><rect x="683" y="284" width="1" height="1"/><rect x="43" y="285" width="1" height="1"/><rect x="684" y="285" width="1" height="1"/><rect x="42" y="286" width="1" height="1"/><rect x="685" y="286" width="1" height="1"/><rect x="41" y="287" width="1" height="1"/><rect x="685" y="287" width="1" height="1"/><rect x="40" y="288" width="1" height="1"/><rect x="686" y="288" width="1" height="1"/><rect x="39" y="289" width="1" height="1"/><rect x="687" y="289" width="1" height="1"/><rect x="38" y="290" width="1" height="1"/><rect x="687" y="290" width="1" height="1"/><rect x="37" y="291" width="1" height="1"/><rect x="688" y="291" width="1" height="1"/><rect x="37" y="292" width="1" height="1"/><rect x="689" y="292" width="1" height="1"/><rect x="36" y="293" width="1" height="1"/><rect x="690" y="293" width="1" height="1"/><rect x="35" y="294" width="1" height="1"/><rect x="690" y="294" width="1" height="1"/><rect x="34" y="295" width="1" height="1"/><rect x="691" y="295" width="1" height="1"/><rect x="33" y="296" width="1" height="1"/><rect x="692" y="296" width="1" height="1"/><rect x="33" y="297" width="1" height="1"/><rect x="693" y="297" width="1" height="1"/><rect x="32" y="298" width="1" height="1"/><rect x="694" y="298" width="1" height="1"/><rect x="31" y="299" width="1" height="1"/><rect x="694" y="299" width="1" height="1"/><rect x="30" y="300" width="1" height="1"/><rect x="695" y="300" width="1" height="1"/><rect x="29" y="301" width="1" height="1"/><rect x="696" y="301" width="1" height="1"/><rect x="28" y="302" width="1" height="1"/><rect x="697" y="302" width="1" height="1"/><rect x="28" y="303" width="1" height="1"/><rect x="698" y="303" width="1" height="1"/><rect x="27" y="304" width="1" height="1"/><rect x="698" y="304" width="1" height="1"/><rect x="26" y="305" width="1" height="1"/><rect x="699" y="305" width="1" height="1"/><rect x="25" y="306" width="1" height="1"/><rect x="700" y="306" width="1" height="1"/><rect x="24" y="307" width="1" height="1"/><rect x="701" y="307" width="1" height="1"/><rect x="24" y="308" width="1" height="1"/><rect x="702" y="308" width="1" height="1"/><rect x="23" y="309" width="1" height="1"/><rect x="703" y="309" width="1" height="1"/><rect x="22" y="310" width="1" height="1"/><rect x="704" y="310" width="1" height="1"/><rect x="22" y="311" width="1" height="1"/><rect x="705" y="311" width="1" height="1"/><rect x="21" y="312" width="1" height="1"/><rect x="706" y="312" width="1" height="1"/><rect x="21" y="313" width="1" height="1"/><rect x="707" y="313" width="1" height="1"/><rect x="20" y="314" width="1" height="1"/><rect x="708" y="314" width="1" height="1"/><rect x="20" y="315" width="1" height="1"/><rect x="709" y="315" width="1" height="1"/><rect x="19" y="316" width="1" height="1"/><rect x="710" y="316" width="2" height="1"/><rect x="18" y="317" width="1" height="1"/><rect x="712" y="317" width="1" height="1"/><rect x="18" y="318" width="1" height="1"/><rect x="713" y="318" width="1" height="1"/><rect x="17" y="319" width="1" height="1"/><rect x="714" y="319" width="2" height="1"/><rect x="17" y="320" width="1" height="1"/><rect x="716" y="320" width="1" height="1"/><rect x="16" y="321" width="1" height="1"/><rect x="717" y="321" width="1" height="1"/><rect x="16" y="322" width="1" height="1"/><rect x="718" y="322" width="2" height="1"/><rect x="15" y="323" width="1" height="1"/><rect x="720" y="323" width="1" height="1"/><rect x="15" y="324" width="1" height="1"/><rect x="721" y="324" width="2" height="1"/><rect x="14" y="325" width="1" height="1"/><rect x="723" y="325" width="1" height="1"/><rect x="13" y="326" width="1" height="1"/><rect x="724" y="326" width="2" height="1"/><rect x="13" y="327" width="1" height="1"/><rect x="726" y="327" width="1" height="1"/><rect x="12" y="328" width="1" height="1"/><rect x="727" y="328" width="2" height="1"/><rect x="12" y="329" width="1" height="1"/><rect x="729" y="329" width="1" height="1"/><rect x="11" y="330" width="1" height="1"/><rect x="730" y="330" width="1" height="1"/><rect x="11" y="331" width="1" height="1"/><rect x="731" y="331" width="1" height="1"/><rect x="10" y="332" width="1" height="1"/><rect x="732" y="332" width="1" height="1"/><rect x="10" y="333" width="1" height="1"/><rect x="732" y="333" width="1" height="1"/><rect x="9" y="334" width="1" height="1"/><rect x="733" y="334" width="1" height="1"/><rect x="8" y="335" width="1" height="1"/><rect x="734" y="335" width="1" height="1"/><rect x="8" y="336" width="1" height="1"/><rect x="735" y="336" width="1" height="1"/><rect x="7" y="337" width="1" height="1"/><rect x="736" y="337" width="1" height="1"/><rect x="7" y="338" width="1" height="1"/><rect x="737" y="338" width="1" height="1"/><rect x="6" y="339" width="1" height="1"/><rect x="738" y="339" width="1" height="1"/><rect x="6" y="340" width="1" height="1"/><rect x="739" y="340" width="1" height="1"/><rect x="5" y="341" width="1" height="1"/><rect x="740" y="341" width="1" height="1"/><rect x="5" y="342" width="1" height="1"/><rect x="741" y="342" width="2" height="1"/><rect x="4" y="343" width="1" height="1"/><rect x="743" y="343" width="1" height="1"/><rect x="3" y="344" width="1" height="1"/><rect x="744" y="344" width="1" height="1"/><rect x="3" y="345" width="1" height="1"/><rect x="745" y="345" width="2" height="1"/><rect x="2" y="346" width="1" height="1"/><rect x="747" y="346" width="1" height="1"/><rect x="2" y="347" width="1" height="1"/><rect x="748" y="347" width="2" height="1"/><rect x="1" y="348" width="1" height="1"/><rect x="750" y="348" width="1" height="1"/><rect x="1" y="349" width="1" height="1"/><rect x="751" y="349" width="1" height="1"/><rect x="0" y="350" width="1" height="1"/><rect x="752" y="350" width="2" height="1"/><rect x="0" y="351" width="1" height="1"/><rect x="754" y="351" width="1" height="1"/><rect x="755" y="352" width="1" height="1"/><rect x="756" y="353" width="2" height="1"/><rect x="758" y="354" width="1" height="1"/><rect x="759" y="355" width="1" height="1"/><rect x="760" y="356" width="2" height="1"/><rect x="762" y="357" width="1" height="1"/><rect x="763" y="358" width="1" height="1"/><rect x="764" y="359" width="1" height="1"/><rect x="765" y="360" width="2" height="1"/><rect x="767" y="361" width="1" height="1"/><rect x="768" y="362" width="1" height="1"/><rect x="769" y="363" width="1" height="1"/><rect x="770" y="364" width="2" height="1"/><rect x="772" y="365" width="1" height="1"/><rect x="773" y="366" width="1" height="1"/>
<rect x="382" y="107" width="2" height="1"/><rect x="406" y="107" width="2" height="1"/><rect x="381" y="108" width="1" height="1"/><rect x="387" y="108" width="1" height="1"/><rect x="405" y="108" width="1" height="1"/><rect x="388" y="109" width="2" height="1"/><rect x="411" y="109" width="1" height="1"/><rect x="393" y="110" width="3" height="1"/><rect x="399" y="110" width="3" height="1"/><rect x="412" y="110" width="1" height="1"/><rect x="377" y="111" width="1" height="1"/><rect x="413" y="111" width="1" height="1"/><rect x="376" y="112" width="1" height="1"/><rect x="375" y="113" width="1" height="1"/><rect x="371" y="115" width="1" height="1"/><rect x="415" y="115" width="1" height="1"/><rect x="370" y="116" width="1" height="1"/><rect x="415" y="116" width="1" height="1"/><rect x="369" y="117" width="1" height="1"/><rect x="416" y="117" width="1" height="1"/><rect x="365" y="121" width="1" height="1"/><rect x="419" y="121" width="1" height="1"/><rect x="364" y="122" width="1" height="1"/><rect x="419" y="122" width="1" height="1"/><rect x="363" y="123" width="1" height="1"/><rect x="420" y="123" width="1" height="1"/><rect x="359" y="127" width="1" height="1"/><rect x="423" y="127" width="1" height="1"/><rect x="359" y="128" width="1" height="1"/><rect x="423" y="128" width="1" height="1"/><rect x="358" y="129" width="1" height="1"/><rect x="424" y="129" width="1" height="1"/><rect x="355" y="133" width="1" height="1"/><rect x="426" y="133" width="1" height="1"/><rect x="354" y="134" width="1" height="1"/><rect x="426" y="134" width="1" height="1"/><rect x="354" y="135" width="1" height="1"/><rect x="427" y="135" width="1" height="1"/><rect x="352" y="139" width="1" height="1"/><rect x="430" y="139" width="1" height="1"/><rect x="351" y="140" width="1" height="1"/><rect x="431" y="140" width="2" height="1"/><rect x="351" y="141" width="1" height="1"/><rect x="436" y="143" width="2" height="1"/><rect x="438" y="144" width="1" height="1"/><rect x="442" y="144" width="3" height="1"/><rect x="448" y="144" width="1" height="1"/><rect x="349" y="145" width="1" height="1"/><rect x="449" y="145" width="1" height="1"/><rect x="348" y="146" width="1" height="1"/><rect x="450" y="146" width="1" height="1"/><rect x="348" y="147" width="1" height="1"/><rect x="454" y="150" width="1" height="1"/><rect x="345" y="151" width="1" height="1"/><rect x="455" y="151" width="1" height="1"/><rect x="344" y="152" width="1" height="1"/><rect x="455" y="152" width="1" height="1"/><rect x="343" y="153" width="1" height="1"/><rect x="458" y="156" width="1" height="1"/><rect x="339" y="157" width="1" height="1"/><rect x="458" y="157" width="1" height="1"/><rect x="338" y="158" width="1" height="1"/><rect x="459" y="158" width="1" height="1"/><rect x="337" y="159" width="1" height="1"/><rect x="462" y="162" width="1" height="1"/><rect x="333" y="163" width="1" height="1"/><rect x="462" y="163" width="1" height="1"/><rect x="332" y="164" width="1" height="1"/><rect x="463" y="164" width="1" height="1"/><rect x="331" y="165" width="1" height="1"/><rect x="327" y="168" width="1" height="1"/><rect x="464" y="168" width="1" height="1"/><rect x="326" y="169" width="1" height="1"/><rect x="465" y="169" width="1" height="1"/><rect x="325" y="170" width="1" height="1"/><rect x="465" y="170" width="1" height="1"/><rect x="321" y="173" width="1" height="1"/><rect x="320" y="174" width="1" height="1"/><rect x="466" y="174" width="1" height="1"/><rect x="319" y="175" width="1" height="1"/><rect x="467" y="175" width="1" height="1"/><rect x="467" y="176" width="1" height="1"/><rect x="315" y="178" width="1" height="1"/><rect x="313" y="179" width="2" height="1"/><rect x="469" y="180" width="1" height="1"/><rect x="469" y="181" width="1" height="1"/><rect x="309" y="182" width="1" height="1"/><rect x="469" y="182" width="1" height="1"/><rect x="308" y="183" width="1" height="1"/><rect x="307" y="184" width="1" height="1"/><rect x="471" y="186" width="1" height="1"/><rect x="303" y="187" width="1" height="1"/><rect x="471" y="187" width="1" height="1"/><rect x="302" y="188" width="1" height="1"/><rect x="472" y="188" width="1" height="1"/><rect x="302" y="189" width="1" height="1"/><rect x="474" y="192" width="1" height="1"/><rect x="298" y="193" width="1" height="1"/><rect x="474" y="193" width="1" height="1"/><rect x="297" y="194" width="1" height="1"/><rect x="475" y="194" width="1" height="1"/><rect x="297" y="195" width="1" height="1"/><rect x="478" y="198" width="2" height="1"/><rect x="570" y="198" width="1" height="1"/><rect x="294" y="199" width="1" height="1"/><rect x="480" y="199" width="1" height="1"/><rect x="569" y="199" width="1" height="1"/><rect x="294" y="200" width="1" height="1"/><rect x="568" y="200" width="1" height="1"/><rect x="294" y="201" width="1" height="1"/><rect x="484" y="201" width="2" height="1"/><rect x="574" y="201" width="2" height="1"/><rect x="486" y="202" width="1" height="1"/><rect x="576" y="202" width="1" height="1"/><rect x="490" y="204" width="2" height="1"/><rect x="564" y="204" width="1" height="1"/><rect x="580" y="204" width="1" height="1"/><rect x="292" y="205" width="1" height="1"/><rect x="492" y="205" width="1" height="1"/><rect x="563" y="205" width="1" height="1"/><rect x="581" y="205" width="2" height="1"/><rect x="291" y="206" width="1" height="1"/><rect x="562" y="206" width="1" height="1"/><rect x="291" y="207" width="1" height="1"/><rect x="496" y="207" width="1" height="1"/><rect x="586" y="207" width="1" height="1"/><rect x="497" y="208" width="1" height="1"/><rect x="587" y="208" width="2" height="1"/><rect x="498" y="209" width="1" height="1"/><rect x="558" y="210" width="1" height="1"/><rect x="592" y="210" width="2" height="1"/><rect x="289" y="211" width="1" height="1"/><rect x="557" y="211" width="1" height="1"/><rect x="594" y="211" width="1" height="1"/><rect x="289" y="212" width="1" height="1"/><rect x="502" y="212" width="1" height="1"/><rect x="556" y="212" width="1" height="1"/><rect x="598" y="212" width="2" height="1"/><rect x="289" y="213" width="1" height="1"/><rect x="503" y="213" width="1" height="1"/><rect x="600" y="213" width="1" height="1"/><rect x="504" y="214" width="1" height="1"/><rect x="552" y="214" width="1" height="1"/><rect x="550" y="215" width="2" height="1"/><rect x="603" y="216" width="1" height="1"/><rect x="287" y="217" width="1" height="1"/><rect x="545" y="217" width="2" height="1"/><rect x="604" y="217" width="1" height="1"/><rect x="287" y="218" width="1" height="1"/><rect x="508" y="218" width="2" height="1"/><rect x="538" y="218" width="3" height="1"/><rect x="544" y="218" width="1" height="1"/><rect x="605" y="218" width="1" height="1"/><rect x="287" y="219" width="1" height="1"/><rect x="510" y="219" width="1" height="1"/><rect x="534" y="219" width="1" height="1"/><rect x="532" y="220" width="2" height="1"/><rect x="528" y="221" width="1" height="1"/><rect x="514" y="222" width="1" height="1"/><rect x="526" y="222" width="2" height="1"/><rect x="608" y="222" width="1" height="1"/><rect x="285" y="223" width="1" height="1"/><rect x="515" y="223" width="2" height="1"/><rect x="521" y="223" width="2" height="1"/><rect x="609" y="223" width="1" height="1"/><rect x="285" y="224" width="1" height="1"/><rect x="520" y="224" width="1" height="1"/><rect x="609" y="224" width="1" height="1"/><rect x="285" y="225" width="1" height="1"/><rect x="612" y="228" width="1" height="1"/><rect x="283" y="229" width="1" height="1"/><rect x="613" y="229" width="1" height="1"/><rect x="283" y="230" width="1" height="1"/><rect x="613" y="230" width="1" height="1"/><rect x="282" y="231" width="1" height="1"/><rect x="181" y="234" width="3" height="1"/><rect x="187" y="234" width="1" height="1"/><rect x="616" y="234" width="1" height="1"/><rect x="175" y="235" width="3" height="1"/><rect x="188" y="235" width="1" height="1"/><rect x="281" y="235" width="1" height="1"/><rect x="617" y="235" width="1" height="1"/><rect x="189" y="236" width="1" height="1"/><rect x="280" y="236" width="1" height="1"/><rect x="618" y="236" width="1" height="1"/><rect x="170" y="237" width="2" height="1"/><rect x="280" y="237" width="1" height="1"/><rect x="169" y="238" width="1" height="1"/><rect x="193" y="240" width="1" height="1"/><rect x="621" y="240" width="1" height="1"/><rect x="165" y="241" width="1" height="1"/><rect x="193" y="241" width="1" height="1"/><rect x="278" y="241" width="1" height="1"/><rect x="621" y="241" width="1" height="1"/><rect x="164" y="242" width="1" height="1"/><rect x="194" y="242" width="1" height="1"/><rect x="278" y="242" width="1" height="1"/><rect x="622" y="242" width="1" height="1"/><rect x="163" y="243" width="1" height="1"/><rect x="278" y="243" width="1" height="1"/><rect x="159" y="245" width="1" height="1"/><rect x="158" y="246" width="1" height="1"/><rect x="198" y="246" width="1" height="1"/><rect x="624" y="246" width="1" height="1"/><rect x="157" y="247" width="1" height="1"/><rect x="199" y="247" width="1" height="1"/><rect x="276" y="247" width="1" height="1"/><rect x="624" y="247" width="1" height="1"/><rect x="200" y="248" width="1" height="1"/><rect x="276" y="248" width="1" height="1"/><rect x="625" y="248" width="1" height="1"/><rect x="276" y="249" width="1" height="1"/><rect x="152" y="250" width="2" height="1"/><rect x="151" y="251" width="1" height="1"/><rect x="40" y="252" width="3" height="1"/><rect x="46" y="252" width="3" height="1"/><rect x="203" y="252" width="1" height="1"/><rect x="627" y="252" width="1" height="1"/><rect x="34" y="253" width="3" height="1"/><rect x="52" y="253" width="1" height="1"/><rect x="204" y="253" width="1" height="1"/><rect x="274" y="253" width="1" height="1"/><rect x="627" y="253" width="1" height="1"/><rect x="28" y="254" width="3" height="1"/><rect x="53" y="254" width="2" height="1"/><rect x="205" y="254" width="1" height="1"/><rect x="274" y="254" width="1" height="1"/><rect x="628" y="254" width="1" height="1"/><rect x="148" y="255" width="1" height="1"/><rect x="274" y="255" width="1" height="1"/><rect x="24" y="256" width="1" height="1"/><rect x="147" y="256" width="1" height="1"/><rect x="22" y="257" width="2" height="1"/><rect x="58" y="257" width="2" height="1"/><rect x="66" y="257" width="1" height="1"/><rect x="70" y="257" width="3" height="1"/><rect x="146" y="257" width="1" height="1"/><rect x="60" y="258" width="1" height="1"/><rect x="64" y="258" width="2" height="1"/><rect x="208" y="258" width="1" height="1"/><rect x="631" y="258" width="1" height="1"/><rect x="209" y="259" width="1" height="1"/><rect x="272" y="259" width="1" height="1"/><rect x="631" y="259" width="1" height="1"/><rect x="18" y="260" width="1" height="1"/><rect x="75" y="260" width="1" height="1"/><rect x="210" y="260" width="1" height="1"/><rect x="272" y="260" width="1" height="1"/><rect x="632" y="260" width="1" height="1"/><rect x="17" y="261" width="1" height="1"/><rect x="76" y="261" width="1" height="1"/><rect x="144" y="261" width="1" height="1"/><rect x="272" y="261" width="1" height="1"/><rect x="16" y="262" width="1" height="1"/><rect x="77" y="262" width="1" height="1"/><rect x="143" y="262" width="1" height="1"/><rect x="143" y="263" width="1" height="1"/><rect x="213" y="264" width="1" height="1"/><rect x="635" y="264" width="1" height="1"/><rect x="214" y="265" width="1" height="1"/><rect x="269" y="265" width="1" height="1"/><rect x="636" y="265" width="1" height="1"/><rect x="12" y="266" width="1" height="1"/><rect x="80" y="266" width="1" height="1"/><rect x="215" y="266" width="1" height="1"/><rect x="268" y="266" width="1" height="1"/><rect x="636" y="266" width="1" height="1"/><rect x="11" y="267" width="1" height="1"/><rect x="81" y="267" width="1" height="1"/><rect x="141" y="267" width="1" height="1"/><rect x="268" y="267" width="1" height="1"/><rect x="10" y="268" width="1" height="1"/><rect x="82" y="268" width="1" height="1"/><rect x="141" y="268" width="1" height="1"/><rect x="140" y="269" width="1" height="1"/><rect x="217" y="270" width="1" height="1"/><rect x="639" y="270" width="1" height="1"/><rect x="7" y="271" width="1" height="1"/><rect x="218" y="271" width="1" height="1"/><rect x="264" y="271" width="1" height="1"/><rect x="640" y="271" width="1" height="1"/><rect x="6" y="272" width="1" height="1"/><rect x="86" y="272" width="1" height="1"/><rect x="218" y="272" width="1" height="1"/><rect x="263" y="272" width="1" height="1"/><rect x="641" y="272" width="1" height="1"/><rect x="6" y="273" width="1" height="1"/><rect x="87" y="273" width="1" height="1"/><rect x="139" y="273" width="1" height="1"/><rect x="263" y="273" width="1" height="1"/><rect x="88" y="274" width="1" height="1"/><rect x="98" y="274" width="3" height="1"/><rect x="104" y="274" width="3" height="1"/><rect x="139" y="274" width="1" height="1"/><rect x="110" y="275" width="1" height="1"/><rect x="138" y="275" width="1" height="1"/><rect x="92" y="276" width="1" height="1"/><rect x="111" y="276" width="1" height="1"/><rect x="221" y="276" width="1" height="1"/><rect x="644" y="276" width="1" height="1"/><rect x="4" y="277" width="1" height="1"/><rect x="93" y="277" width="2" height="1"/><rect x="112" y="277" width="1" height="1"/><rect x="221" y="277" width="1" height="1"/><rect x="259" y="277" width="1" height="1"/><rect x="645" y="277" width="1" height="1"/><rect x="3" y="278" width="1" height="1"/><rect x="222" y="278" width="1" height="1"/><rect x="258" y="278" width="1" height="1"/><rect x="646" y="278" width="1" height="1"/><rect x="3" y="279" width="1" height="1"/><rect x="135" y="279" width="1" height="1"/><rect x="257" y="279" width="1" height="1"/><rect x="116" y="280" width="1" height="1"/><rect x="135" y="280" width="1" height="1"/><rect x="117" y="281" width="2" height="1"/><rect x="134" y="281" width="1" height="1"/><rect x="224" y="282" width="1" height="1"/><rect x="650" y="282" width="1" height="1"/><rect x="1" y="283" width="1" height="1"/><rect x="122" y="283" width="3" height="1"/><rect x="129" y="283" width="2" height="1"/><rect x="224" y="283" width="1" height="1"/><rect x="254" y="283" width="1" height="1"/><rect x="651" y="283" width="1" height="1"/><rect x="0" y="284" width="1" height="1"/><rect x="128" y="284" width="1" height="1"/><rect x="225" y="284" width="1" height="1"/><rect x="253" y="284" width="1" height="1"/><rect x="652" y="284" width="1" height="1"/><rect x="0" y="285" width="1" height="1"/><rect x="253" y="285" width="1" height="1"/><rect x="227" y="288" width="1" height="1"/><rect x="655" y="288" width="1" height="1"/><rect x="228" y="289" width="1" height="1"/><rect x="250" y="289" width="1" height="1"/><rect x="656" y="289" width="1" height="1"/><rect x="229" y="290" width="1" height="1"/><rect x="249" y="290" width="1" height="1"/><rect x="657" y="290" width="1" height="1"/><rect x="249" y="291" width="1" height="1"/><rect x="232" y="294" width="1" height="1"/><rect x="660" y="294" width="1" height="1"/><rect x="233" y="295" width="2" height="1"/><rect x="245" y="295" width="2" height="1"/><rect x="661" y="295" width="1" height="1"/><rect x="244" y="296" width="1" height="1"/><rect x="662" y="296" width="1" height="1"/><rect x="238" y="297" width="1" height="1"/><rect x="239" y="298" width="2" height="1"/><rect x="665" y="300" width="1" height="1"/><rect x="666" y="301" width="1" height="1"/><rect x="667" y="302" width="1" height="1"/><rect x="670" y="306" width="1" height="1"/><rect x="671" y="307" width="1" height="1"/><rect x="672" y="308" width="1" height="1"/><rect x="675" y="312" width="1" height="1"/><rect x="676" y="313" width="1" height="1"/><rect x="677" y="314" width="1" height="1"/><rect x="680" y="318" width="1" height="1"/><rect x="681" y="319" width="1" height="1"/><rect x="682" y="320" width="1" height="1"/><rect x="685" y="324" width="1" height="1"/><rect x="686" y="325" width="1" height="1"/><rect x="687" y="326" width="1" height="1"/><rect x="691" y="330" width="1" height="1"/><rect x="692" y="331" width="2" height="1"/><rect x="697" y="334" width="1" height="1"/><rect x="698" y="335" width="1" height="1"/><rect x="699" y="336" width="1" height="1"/><rect x="703" y="339" width="1" height="1"/><rect x="704" y="340" width="1" height="1"/><rect x="705" y="341" width="1" height="1"/><rect x="709" y="345" width="1" height="1"/><rect x="710" y="346" width="2" height="1"/><rect x="715" y="349" width="1" height="1"/><rect x="716" y="350" width="2" height="1"/><rect x="721" y="353" width="2" height="1"/><rect x="723" y="354" width="1" height="1"/><rect x="727" y="355" width="1" height="1"/><rect x="728" y="356" width="2" height="1"/><rect x="733" y="358" width="1" height="1"/><rect x="734" y="359" width="2" height="1"/><rect x="739" y="361" width="2" height="1"/><rect x="741" y="362" width="1" height="1"/><rect x="745" y="363" width="1" height="1"/><rect x="746" y="364" width="2" height="1"/><rect x="751" y="366" width="1" height="1"/><rect x="752" y="367" width="1" height="1"/><rect x="753" y="368" width="1" height="1"/><rect x="757" y="371" width="1" height="1"/><rect x="758" y="372" width="2" height="1"/><rect x="763" y="375" width="1" height="1"/><rect x="764" y="376" width="1" height="1"/><rect x="765" y="377" width="1" height="1"/><rect x="769" y="380" width="1" height="1"/><rect x="770" y="381" width="1" height="1"/><rect x="771" y="382" width="1" height="1"/>
</g>
<text x="834.5" y="481.0" text-anchor="end">82</text>
<text x="834.5" y="462.0" text-anchor="end">84</text>
<text x="834.5" y="444.0" text-anchor="end">86</text>
<text x="834.5" y="425.0" text-anchor="end">88</text>
<text x="834.5" y="406.0" text-anchor="end">90</text>
<text x="834.5" y="387.0" text-anchor="end">92</text>
<text x="834.5" y="369.0" text-anchor="end">94</text>
<text x="834.5" y="350.0" text-anchor="end">96</text>
<text x="834.5" y="331.0" text-anchor="end">98</text>
<text x="834.5" y="312.0" text-anchor="end">100</text>
<text x="834.5" y="294.0" text-anchor="end">102</text>
<text x="834.5" y="275.0" text-anchor="end">104</text>
<text x="834.5" y="256.0" text-anchor="end">106</text>
<text x="834.5" y="237.0" text-anchor="end">108</text>
<text x="834.5" y="219.0" text-anchor="end">110</text>
<text x="834.5" y="200.0" text-anchor="end">112</text>
<text x="834.5" y="181.0" text-anchor="end">114</text>
<text x="834.5" y="162.0" text-anchor="end">116</text>
<text x="834.5" y="144.0" text-anchor="end">118</text>
<text x="834.5" y="125.0" text-anchor="end">120</text>
<text x="834.5" y="106.0" text-anchor="end">122</text>
<text x="834.5" y="87.0" text-anchor="end">124</text>
<text x="834.5" y="69.0" text-anchor="end">126</text>
<text x="834.5" y="50.0" text-anchor="end">128</text>
<text x="834.5" y="31.0" text-anchor="end">130</text>
<text x="834.5" y="12.0" text-anchor="end">132</text>
<text x="54.5" y="512">2020</text>
<text x="209.5" y="512">2021</text>
<text x="362.5" y="512">2022</text>
<text x="515.5" y="512">2023</text>
<text x="667.5" y="512">2024</text>
<text x="321" y="28.5">129.80</text>
<text x="194" y="362.8">95.00</text>
<text x="50" y="475">83.37</text>
<text x="304.5" y="255.5">GD40</text>
<text x="258.5" y="297">GD20</text>
</svg>
</body></html>
